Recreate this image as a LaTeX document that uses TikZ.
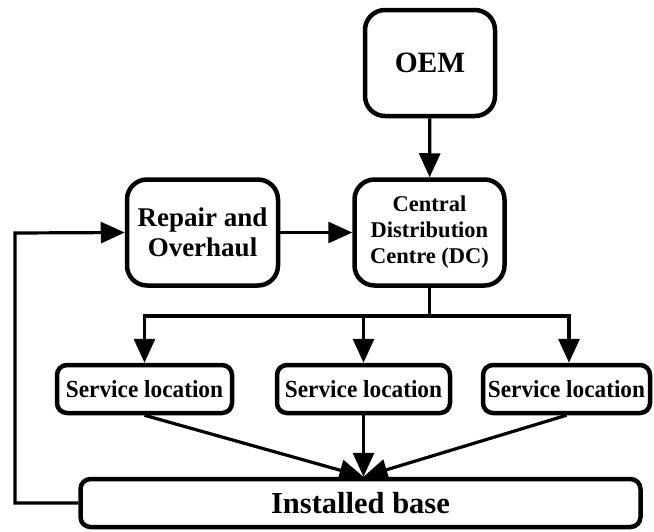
\documentclass[tikz,border=0pt]{standalone}
\usepackage{fontspec}
\setmainfont{Liberation Serif}
\newfontfamily\condserif[FakeStretch=0.95]{Liberation Serif}
\usetikzlibrary{arrows.meta}
\begin{document}
\begin{tikzpicture}[x=1pt,y=-1pt,
  box/.style={draw, line width=4.5pt, rounded corners=#1, inner sep=0pt, align=center, font=\bfseries},
  box/.default=18pt,
  conn/.style={line width=3.2pt, -{Triangle[length=24pt,width=21pt]}},
  plain/.style={line width=3.2pt}]
\useasboundingbox (0,0) rectangle (654,531);
\node[box=20pt, minimum width=130pt, minimum height=106pt, font=\bfseries\fontsize{29.5}{32}\selectfont] (oem) at (430,63) {OEM};
\node[box=20pt, minimum width=150pt, minimum height=106pt, font=\bfseries\fontsize{22.5}{26}\selectfont] (dc) at (429.5,232.5) {Central\\Distribution\\Centre (DC)};
\node[box=20pt, minimum width=151pt, minimum height=106pt, font=\bfseries\fontsize{27}{30}\selectfont] (rep) at (202.5,232.5) {Repair and\\Overhaul};
\node[box=10pt, minimum width=175pt, minimum height=48pt, font=\condserif\bfseries\fontsize{24.5}{27}\selectfont] (s1) at (144.5,389) {Service location};
\node[box=10pt, minimum width=173pt, minimum height=48pt, font=\condserif\bfseries\fontsize{24.5}{27}\selectfont] (s2) at (363.5,389) {Service location};
\node[box=10pt, minimum width=167pt, minimum height=48pt, font=\condserif\bfseries\fontsize{24.5}{27}\selectfont] (s3) at (566.5,389) {Service location};
\node[box=10pt, minimum width=560pt, minimum height=48pt, font=\bfseries\fontsize{30.5}{34}\selectfont] (ib) at (360.5,503) {Installed base};
\coordinate (bus) at (429.5,316);
\coordinate (busL) at (144.5,316);
\coordinate (busR) at (569,316);
\coordinate (fbL) at (15,503);
\coordinate (fbT) at (15,233);
\draw[conn] (oem) -- (dc);
\draw[conn] (rep) -- (dc);
\draw[plain] (dc.south) -- (bus);
\draw[plain, line cap=rect] (busL) -- (busR);
\draw[conn] (busL) -- (busL |- s1.north);
\draw[conn] (s2.north |- bus) -- (s2.north);
\draw[conn] (busR) -- (busR |- s3.north);
\draw[conn] (s1.south) -- (s2.south |- ib.north);
\draw[conn] (s2.south) -- (s2.south |- ib.north);
\draw[conn] (s3.south) -- (s2.south |- ib.north);
\draw[line width=3.2pt, -{Triangle[length=24pt,width=21pt]}, line join=miter] (ib.west) -- (fbL) -- (fbT) -- (rep.west);
\end{tikzpicture}
\end{document}
